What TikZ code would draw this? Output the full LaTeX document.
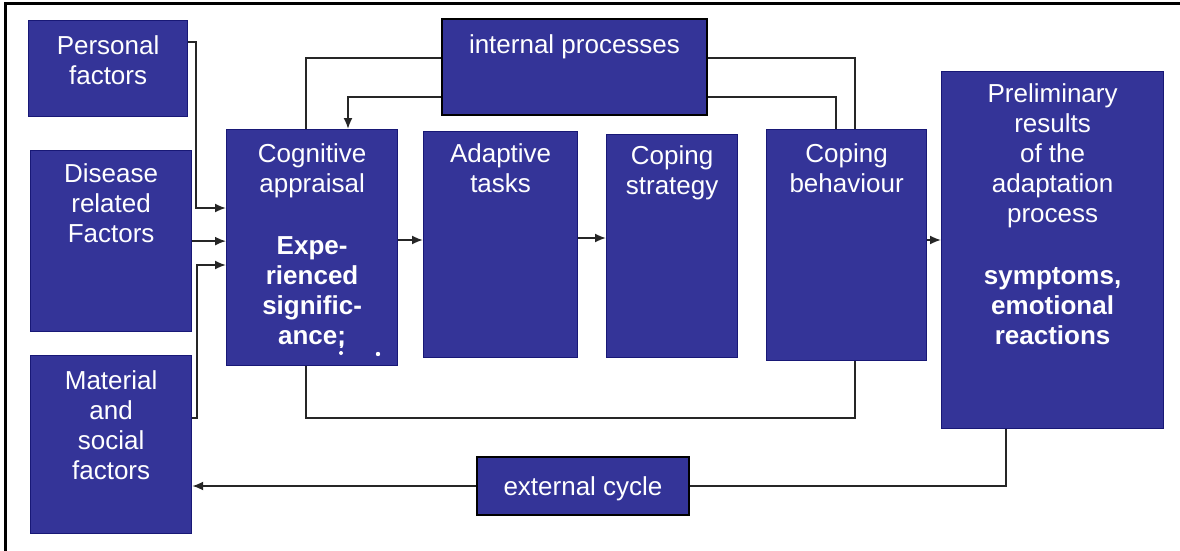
\documentclass[tikz,border=0pt]{standalone}
\usepackage{fontspec}
\setmainfont{Liberation Sans}
\usetikzlibrary{arrows.meta}
\definecolor{boxblue}{RGB}{52,52,152}
\definecolor{boxedge}{RGB}{24,24,118}
\newcommand\labfont{\fontsize{26}{30}\selectfont}
\tikzset{
  box/.style={draw=boxedge, line width=1.2pt, fill=boxblue, anchor=north west, inner sep=0pt},
  keybox/.style={box, draw=black, line width=2pt},
  txt/.style={text=white, font=\labfont, align=center, anchor=north, inner sep=0pt,
              execute at begin node=\strut},
  conn/.style={draw=black!85, line width=1.8pt},
  arr/.style={conn, -{Latex[length=11pt,width=9pt]}}
}
\begin{document}
\begin{tikzpicture}[x=1pt,y=-1pt]
\useasboundingbox (0,0) rectangle (1180,551);
% cropped frame: top and left edges
\draw[line width=2.5pt] (5.5,551) -- (5.5,3.5) -- (1180,3.5);

% boxes
\node[box, minimum width=159pt, minimum height=96pt]  (personal) at (28,20) {};
\node[box, minimum width=161pt, minimum height=181pt] (disease)  at (30,150) {};
\node[box, minimum width=161pt, minimum height=178pt] (material) at (30,355) {};
\node[box, minimum width=171pt, minimum height=236pt] (cog)      at (226,129) {};
\node[keybox, minimum width=265pt, minimum height=96pt] (internal) at (441,18) {};
\node[box, minimum width=154pt, minimum height=226pt] (adapt)    at (423,131) {};
\node[box, minimum width=131pt, minimum height=223pt] (strat)    at (606,134) {};
\node[box, minimum width=160pt, minimum height=231pt] (behav)    at (766,129) {};
\node[box, minimum width=222pt, minimum height=357pt] (prelim)   at (941,71) {};
\node[keybox, minimum width=212pt, minimum height=58pt] (ext)    at (476,456) {};

% labels
\node[txt] (personal-t) at ([yshift=-15pt]personal.north) {Personal\\factors};
\node[txt] (disease-t)  at ([yshift=-13pt]disease.north) {Disease\\related\\Factors};
\node[txt] (material-t) at ([yshift=-15pt]material.north) {Material\\and\\social\\factors};
\node[txt] (cog-t)      at ([yshift=-14pt]cog.north)
  {Cognitive\\appraisal\\[32pt]\textbf{Expe-}\\\textbf{rienced}\\\textbf{signific-}\\\textbf{ance;}};
\node[txt] (internal-t) at ([yshift=-14pt]internal.north) {internal processes};
\node[txt] (adapt-t)    at ([yshift=-12pt]adapt.north) {Adaptive\\tasks};
\node[txt] (strat-t)    at ([yshift=-11pt]strat.north) {Coping\\strategy};
\node[txt] (behav-t)    at ([yshift=-14pt]behav.north) {Coping\\behaviour};
\node[txt] (prelim-t)   at ([yshift=-12pt]prelim.north)
  {Preliminary\\results\\of the\\adaptation\\process\\[32pt]\textbf{symptoms,}\\\textbf{emotional}\\\textbf{reactions}};
\node[txt, anchor=center, execute at begin node={}] (ext-t) at ([yshift=-3pt]ext.center) {external cycle};

% stray marks at the foot of the appraisal box
\fill[white] (341,345) circle (1.6pt) (341,353) circle (2pt) (378,354) circle (2.2pt);

% factors into cognitive appraisal
\draw[arr] ([yshift=-22pt]personal.north east) -- ++(8,0) |- ([yshift=-79pt]cog.north west);
\draw[arr] (disease.east) -- (disease.east -| cog.west);
\draw[arr] ([yshift=-63pt]material.north east) -- ++(5,0) |- ([yshift=-136pt]cog.north west);

% main chain
\draw[arr] ([yshift=-111pt]cog.north east) coordinate (c1) -- (c1 -| adapt.west);
\draw[arr] ([yshift=-107pt]adapt.north east) coordinate (c2) -- (c2 -| strat.west);
\draw[arr] ([yshift=-111pt]behav.north east) coordinate (c3) -- (c3 -| prelim.west);

% internal processes loop
\draw[conn] ([xshift=80pt]cog.north west) |- ([yshift=-40pt]internal.north west);
\draw[conn] ([yshift=-40pt]internal.north east) -| ([xshift=89pt]behav.north west);
\draw[arr]  ([yshift=-79pt]internal.north west) -| ([xshift=122pt]cog.north west);
\draw[conn] ([yshift=-79pt]internal.north east) -| ([xshift=70pt]behav.north west);
\draw[conn] ([xshift=80pt]cog.south west) -- ++(0,52) -| ([xshift=89pt]behav.south west);

% external cycle
\draw[conn] ([xshift=65pt]prelim.south west) |- (ext.east);
\draw[arr]  (ext.west) -- (ext.west -| material.east);
\end{tikzpicture}
\end{document}
